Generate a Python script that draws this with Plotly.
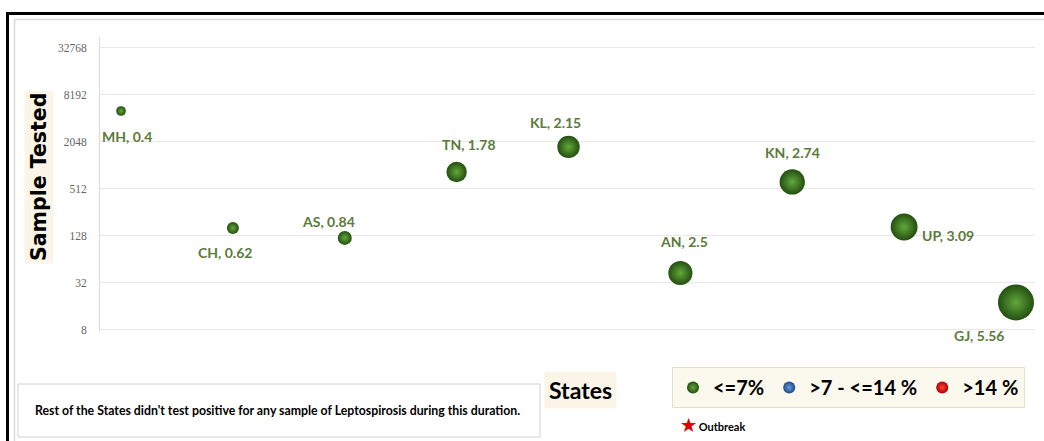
import plotly.graph_objects as go
import math

# ---- data ----
states = ["MH", "CH", "AS", "TN", "KL", "AN", "KN", "UP", "GJ"]
positivity = [0.4, 0.62, 0.84, 1.78, 2.15, 2.5, 2.74, 3.09, 5.56]
samples = [5100, 162, 121, 845, 1770, 43, 630, 167, 18]
x_pos = [1, 2, 3, 4, 5, 6, 7, 8, 9]
y_tickvals = [8, 32, 128, 512, 2048, 8192, 32768]
y_ticktext = ["8", "32", "128", "512", "2048", "8192", "32768"]
legend_names = ["<=7%", ">7 - <=14 %", ">14 %"]
note_text = "Rest of the States didn't test positive for any sample of Leptospirosis during this duration."

# label offsets (pixels) relative to each bubble (style only)
lab_dx = [6, -8, -16, 12, -13, 4, 0, 44, -37]
lab_dy = [-25, -25, 16, 27, 24, 31, 29, -9, -33]

# ---- layout geometry ----
W, H = 1044, 441
L, R, T, B = 100, 1035, 37, 331
PW, PH = R - L, B - T


def px(x):
    return (x - L) / PW


def py(y):
    return (B - y) / PH


SANS = "Lato"
LABEL_COL = "#5b7b3a"
BEIGE = "#faf5e6"

fig = go.Figure()

size_ref = 2 * max(positivity) / (36 ** 2)
fig.add_trace(go.Scatter(
    x=x_pos, y=samples, mode="markers", name=legend_names[0],
    marker=dict(size=positivity, sizemode="area", sizeref=size_ref, opacity=1,
                color="#234f10", line=dict(width=0),
                gradient=dict(type="radial", color="#62a83a")),
    hoverinfo="text", text=[f"{s}, {p}" for s, p in zip(states, positivity)],
))
fig.add_trace(go.Scatter(
    x=[None], y=[None], mode="markers", name=legend_names[1],
    marker=dict(size=12, color="#1d4a8a", line=dict(width=0), opacity=1,
                gradient=dict(type="radial", color="#6a9ad8")),
))
fig.add_trace(go.Scatter(
    x=[None], y=[None], mode="markers", name=legend_names[2],
    marker=dict(size=12, color="#b00000", line=dict(width=0), opacity=1,
                gradient=dict(type="radial", color="#ff4040")),
))

annotations = []
for s, p, xv, yv, dx, dy in zip(states, positivity, x_pos, samples, lab_dx, lab_dy):
    annotations.append(dict(
        x=xv, y=math.log10(yv), xref="x", yref="y",
        text=f"{s}, {p}", showarrow=False, xshift=dx, yshift=dy,
        xanchor="center", yanchor="middle",
        font=dict(family=SANS, size=14, color=LABEL_COL, weight="bold"),
    ))

# y-axis title box
annotations.append(dict(
    x=px(39), y=py(177), xref="paper", yref="paper", text="Sample Tested",
    xanchor="center", yanchor="middle",
    textangle=-90, showarrow=False, bgcolor=BEIGE, borderpad=2,
    font=dict(family="DejaVu Sans", size=20.5, color="#000000", weight="bold"),
))
# x-axis title box
annotations.append(dict(
    x=px(580), y=py(390), xref="paper", yref="paper", text="States",
    xanchor="center", yanchor="middle",
    showarrow=False, bgcolor=BEIGE, borderpad=4,
    font=dict(family=SANS, size=23, color="#000000", weight="bold"),
))
# outbreak key
annotations.append(dict(
    x=px(679), y=py(424), xref="paper", yref="paper",
    xanchor="left", yanchor="middle",
    text="<span style='color:#e00000;font-size:17px'>★</span> Outbreak",
    showarrow=False,
    font=dict(family=SANS, size=11, color="#000000", weight="bold"),
))
# note
annotations.append(dict(
    x=px(277), y=py(410), xref="paper", yref="paper", text=note_text,
    xanchor="center", yanchor="middle",
    showarrow=False,
    font=dict(family=SANS, size=12.3, color="#000000", weight="bold"),
))

shapes = [
    dict(type="rect", xref="paper", yref="paper", x0=px(7.5), y0=py(13.5),
         x1=px(1080), y1=py(480), line=dict(color="#000000", width=3)),
    dict(type="rect", xref="paper", yref="paper", x0=px(14.5), y0=py(19.5),
         x1=px(1080), y1=py(480), line=dict(color="#d9d9d9", width=1.5)),
    dict(type="rect", xref="paper", yref="paper", x0=px(18), y0=py(384),
         x1=px(540), y1=py(437), line=dict(color="#d0d0d0", width=1),
         fillcolor="#ffffff", layer="below"),
]

fig.update_layout(
    width=W, height=H,
    margin=dict(l=L, r=W - R, t=T, b=H - B),
    paper_bgcolor="#ffffff", plot_bgcolor="#ffffff",
    xaxis=dict(range=[0.812, 9.17], showgrid=False, showticklabels=False,
               zeroline=False, showline=False, ticks=""),
    yaxis=dict(type="log", range=[0.89, 4.656], tickvals=y_tickvals,
               ticktext=y_ticktext, showgrid=True, gridcolor="#e8e8e8",
               gridwidth=1, zeroline=False, showline=True, linecolor="#d9d9d9",
               ticks="", ticklabelstandoff=10,
               tickfont=dict(family="Liberation Serif", size=11.5, color="#666666")),
    showlegend=True,
    legend=dict(orientation="h", x=px(672), y=py(367), xanchor="left", yanchor="top",
                bgcolor="#fbf8ee", bordercolor="#e4e0d0", borderwidth=1,
                itemsizing="constant", itemwidth=30,
                font=dict(family=SANS, size=20, color="#000000", weight="bold")),
    annotations=annotations, shapes=shapes,
)

fig.write_html("out.html")
